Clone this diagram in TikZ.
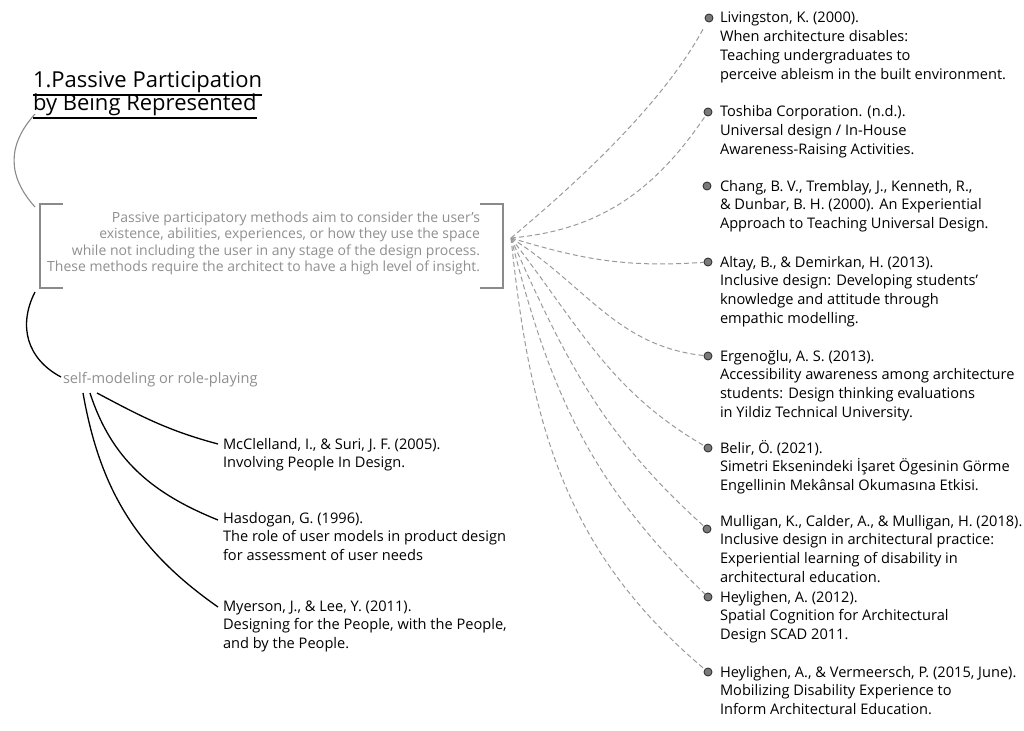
\documentclass[tikz,border=0pt]{standalone}
\usepackage{fontspec}
\setmainfont{Open Sans}
\definecolor{txtgray}{HTML}{8F8F8F}
\definecolor{brgray}{HTML}{8A8A8A}
\definecolor{dashgray}{HTML}{9A9A9A}
\definecolor{dotfill}{HTML}{7A7A7A}
\definecolor{dotline}{HTML}{333333}
% first-line-baseline blocks of text
\newcommand{\leftblock}[1]{\begin{tabular}[t]{@{}l@{}}#1\end{tabular}}
\newcommand{\rightblock}[1]{\begin{tabular}[t]{@{}r@{}}#1\end{tabular}}
\begin{document}
\begin{tikzpicture}[x=1pt,y=-1pt,
  every node/.style={inner sep=0pt, outer sep=0pt},
  ttl/.style={font=\fontsize{22}{23}\selectfont, anchor=base west},
  desctext/.style={font=\fontsize{14}{16.5}\selectfont, text=txtgray, anchor=base east},
  reftext/.style={font=\fontsize{14.6}{18.8}\selectfont, anchor=base west},
  refdot/.style={circle, minimum size=8pt, fill=dotfill, draw=dotline, line width=0.9pt},
  dashlink/.style={draw=dashgray, line width=1pt, dash pattern=on 5pt off 3pt},
  solidlink/.style={draw=black, line width=1.3pt},
]
\useasboundingbox (0,0) rectangle (1024,730);

% title with underlines
\node[ttl] (title1) at (33,88) {1.Passive Participation};
\node[ttl] (title2) at (33,111) {by Being Represented};
\draw[line width=1.3pt] (33,95) -- (title1.base east |- 0,95);
\draw[line width=1.3pt] (33,118) -- (title2.base east |- 0,118);

% bracketed description
\node[desctext] (desc) at (480,222) {\rightblock{Passive participatory methods aim to consider the user's\\
existence, abilities, experiences, or how they use the space\\
while not including the user in any stage of the design process.\\
These methods require the architect to have a high level of insight.}};
\draw[brgray, line width=1.2pt] (63,204) -- (40,204) -- (40,288) -- (63,288);
\draw[brgray, line width=1.2pt] (480,204) -- (503,204) -- (503,288) -- (480,288);

% branch label
\node[font=\fontsize{14.6}{16}\selectfont, text=txtgray, anchor=base west] (selfmod) at (63,383) {self-modeling or role-playing};

% arcs joining the title, the description and the branch
\coordinate (a1) at (35,114);
\coordinate (a2) at (35,207);
\coordinate (b1) at (35,292);
\coordinate (b2) at (61,377);
\draw[brgray, line width=1.1pt] (a1) to[out=228, in=132, looseness=1.15] (a2);
\draw[black, line width=1.3pt] (b1) to[out=243, in=152, looseness=1.1] (b2);

% references of the branch
\node[reftext] (mcc) at (223,449) {\leftblock{McClelland, I., \& Suri, J. F. (2005).\\Involving People In Design.}};
\node[reftext] (has) at (223,523) {\leftblock{Hasdogan, G. (1996).\\The role of user models in product design\\for assessment of user needs}};
\node[reftext] (mye) at (223,611) {\leftblock{Myerson, J., \& Lee, Y. (2011).\\Designing for the People, with the People,\\and by the People.}};

\coordinate (s1) at (97,393);
\coordinate (s2) at (90,393);
\coordinate (s3) at (83,393);
\draw[solidlink] (s1) to[out=-28, in=165] ([xshift=-5pt]mcc.base west |- 0,444);
\draw[solidlink] (s2) to[out=-72, in=158] ([xshift=-5pt]has.base west |- 0,520);
\draw[solidlink] (s3) to[out=-80, in=145] ([xshift=-5pt]mye.base west |- 0,607);

% references of the description
\coordinate (hub) at (511,238);
\node[refdot] (d1) at (709,18) {};
\node[refdot] (d2) at (708,112) {};
\node[refdot] (d3) at (707,186) {};
\node[refdot] (d4) at (708,262) {};
\node[refdot] (d5) at (708,356) {};
\node[refdot] (d6) at (708,448) {};
\node[refdot] (d7) at (707,529) {};
\node[refdot] (d8) at (708,597) {};
\node[refdot] (d9) at (708,672) {};

\node[reftext] (r1) at (720,23) {\leftblock{Livingston, K. (2000).\\When architecture disables:\\Teaching undergraduates to\\perceive ableism in the built environment.}};
\node[reftext] (r2) at (720,117) {\leftblock{Toshiba Corporation. (n.d.).\\Universal design / In-House\\Awareness-Raising Activities.}};
\node[reftext] (r3) at (720,191) {\leftblock{Chang, B. V., Tremblay, J., Kenneth, R.,\\\& Dunbar, B. H. (2000). An Experiential\\Approach to Teaching Universal Design.}};
\node[reftext] (r4) at (720,267) {\leftblock{Altay, B., \& Demirkan, H. (2013).\\Inclusive design: Developing students'\\knowledge and attitude through\\empathic modelling.}};
\node[reftext] (r5) at (720,361) {\leftblock{Ergenoğlu, A. S. (2013).\\Accessibility awareness among architecture\\students: Design thinking evaluations\\in Yildiz Technical University.}};
\node[reftext] (r6) at (720,453) {\leftblock{Belir, Ö. (2021).\\Simetri Eksenindeki İşaret Ögesinin Görme\\Engellinin Mekânsal Okumasına Etkisi.}};
\node[reftext] (r7) at (720,526) {\leftblock{Mulligan, K., Calder, A., \& Mulligan, H. (2018).\\Inclusive design in architectural practice:\\Experiential learning of disability in\\architectural education.}};
\node[reftext] (r8) at (720,602) {\leftblock{Heylighen, A. (2012).\\Spatial Cognition for Architectural\\Design SCAD 2011.}};
\node[reftext] (r9) at (720,677) {\leftblock{Heylighen, A., \& Vermeersch, P. (2015, June).\\Mobilizing Disability Experience to\\Inform Architectural Education.}};

\draw[dashlink, shorten >=6pt] (hub) to[out=40, in=242, looseness=0.8] (d1);
\draw[dashlink] (hub) to[out=5, in=236] (d2);
\draw[dashlink] (hub) to[out=-17, in=184] (d4);
\draw[dashlink] (hub) to[out=-32, in=174] (d5);
\draw[dashlink] (hub) to[out=-52, in=150] (d6);
\draw[dashlink] (hub) to[out=-66, in=138] (d7);
\draw[dashlink] (hub) to[out=-76, in=136] (d8);
\draw[dashlink] (hub) to[out=-84, in=140] (d9);
\end{tikzpicture}
\end{document}
